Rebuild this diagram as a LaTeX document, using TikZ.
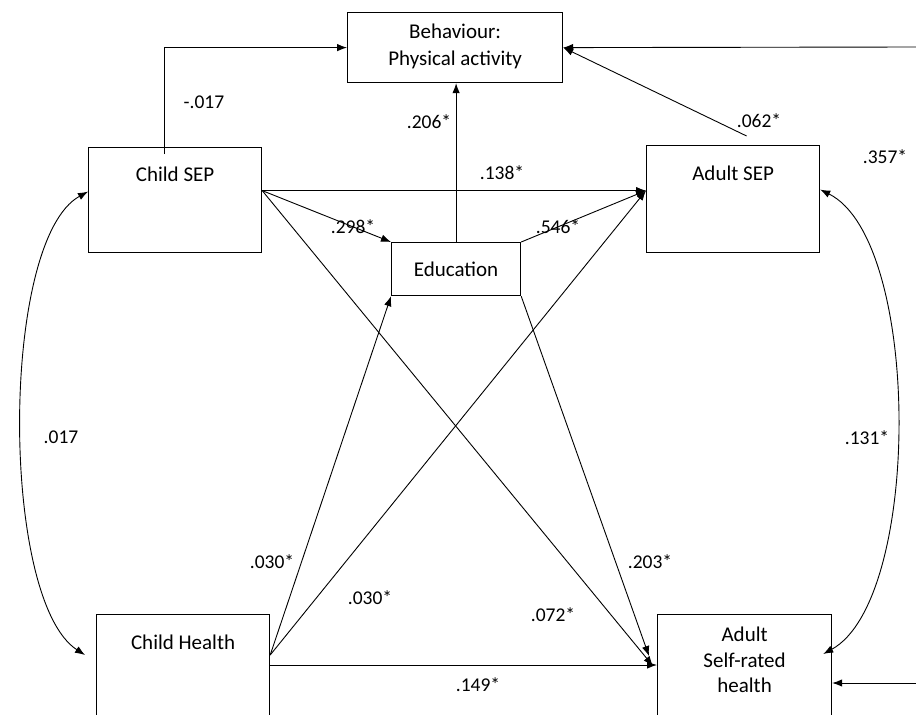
\documentclass[tikz,border=0pt]{standalone}
\usepackage{fontspec}
\setmainfont{Carlito}
\usetikzlibrary{calc,arrows.meta,positioning}
\tikzset{
  box/.style={draw, line width=1.2pt, inner sep=0pt},
  btxt/.style={font=\fontsize{21}{27}\selectfont, align=center, inner sep=0pt},
  elbl/.style={font=\fontsize{19.5}{22}\selectfont, inner sep=0pt},
  link/.style={line width=0.9pt, -{Latex[length=10pt,width=7.5pt]}},
  corr/.style={line width=0.9pt, {Latex[length=10pt,width=7.5pt]}-{Latex[length=10pt,width=7.5pt]}},
  }

\begin{document}
\begin{tikzpicture}[x=1pt,y=-1pt]
  \path[use as bounding box,clip] (0,0) rectangle (916,715);

  % boxes
  \node[box,anchor=north west,minimum width=215pt,minimum height=70pt]  (beh) at (347,12)  {};
  \node[box,anchor=north west,minimum width=173pt,minimum height=105pt] (cs)  at (88,147)  {};
  \node[box,anchor=north west,minimum width=173pt,minimum height=107pt] (as)  at (646,145) {};
  \node[box,anchor=north west,minimum width=129pt,minimum height=53pt]  (edu) at (391,242) {};
  \node[box,anchor=north west,minimum width=173pt,minimum height=140pt] (ch)  at (96,614)  {};
  \node[box,anchor=north west,minimum width=174pt,minimum height=140pt] (ash) at (657,614) {};

  % box texts
  \node[btxt] (behlbl) at ([yshift=1pt]beh.center)   {Behaviour:\\Physical activity};
  \node[btxt] (cslbl)  at ([yshift=-27pt]cs.north)   {Child SEP};
  \node[btxt] (aslbl)  at ([yshift=-28pt]as.north)   {Adult SEP};
  \node[btxt] (edulbl) at (edu.center)               {Education};
  \node[btxt] (chlbl)  at ([yshift=-28pt]ch.north)   {Child Health};
  \node[btxt,font=\fontsize{21}{25.5}\selectfont] (ashlbl) at ([yshift=-46pt]ash.north) {Adult\\Self-rated\\health};

  % connection points
  \coordinate (csout) at ([yshift=9.5pt]cs.east);        % child SEP, right
  \coordinate (asin)  at ([yshift=8.5pt]as.west);        % adult SEP, left
  \coordinate (chout) at ([yshift=-41pt]ch.north east);  % child health, right
  \coordinate (rtop)  at (916,47);
  \coordinate (rbot)  at (916,683);

  % paths to behaviour
  \draw[link] ([xshift=-11pt,yshift=-7pt]cs.north) |- (beh.west);
  \draw[link] (rtop) -- (beh.east);
  \draw[link] ([xshift=13.5pt,yshift=9pt]as.north) -- (beh.east);
  \draw[link] (edu.north) -- (edu.north |- beh.south);

  % paths to adult SEP and education
  \draw[link] (csout) -- (asin);
  \draw[link] (csout) -- (edu.north west);
  \draw[link] (edu.north east) -- (asin);
  \draw[link] (chout) -- (asin);
  \draw[link] (chout) -- (edu.south west);

  % paths to adult health
  \draw[link] (csout) -- ([xshift=-4pt,yshift=-52pt]ash.north west);
  \draw[link] (edu.south east) -- ([xshift=-8pt,yshift=-42pt]ash.north west);
  \draw[link] ([yshift=-10pt]chout) -- ([yshift=-51pt]ash.north west);
  \draw[link] (rbot) -- (rbot -| ash.east);

  % correlations
  \draw[corr] ([yshift=8.5pt]cs.west) .. controls (0,240) and (0,600) .. ([xshift=-11pt,yshift=-41pt]ch.north west);
  \draw[corr] ([yshift=9.5pt]as.east) .. controls (922,240) and (922,600) .. ([xshift=-9pt,yshift=-40pt]ash.north east);

  % edge labels
  \node[elbl] at (204,102) {-.017};
  \node[elbl] at (429,122) {.206*};
  \node[elbl] at (759,121) {.062*};
  \node[elbl] at (885,157) {.357*};
  \node[elbl] at (502,173) {.138*};
  \node[elbl] at (353,227) {.298*};
  \node[elbl] at (558,227) {.546*};
  \node[elbl] at (61,437)  {.017};
  \node[elbl] at (867,438) {.131*};
  \node[elbl] at (272,562) {.030*};
  \node[elbl] at (370,598) {.030*};
  \node[elbl] at (650,562) {.203*};
  \node[elbl] at (553,615) {.072*};
  \node[elbl] at (478,685) {.149*};
\end{tikzpicture}
\end{document}
